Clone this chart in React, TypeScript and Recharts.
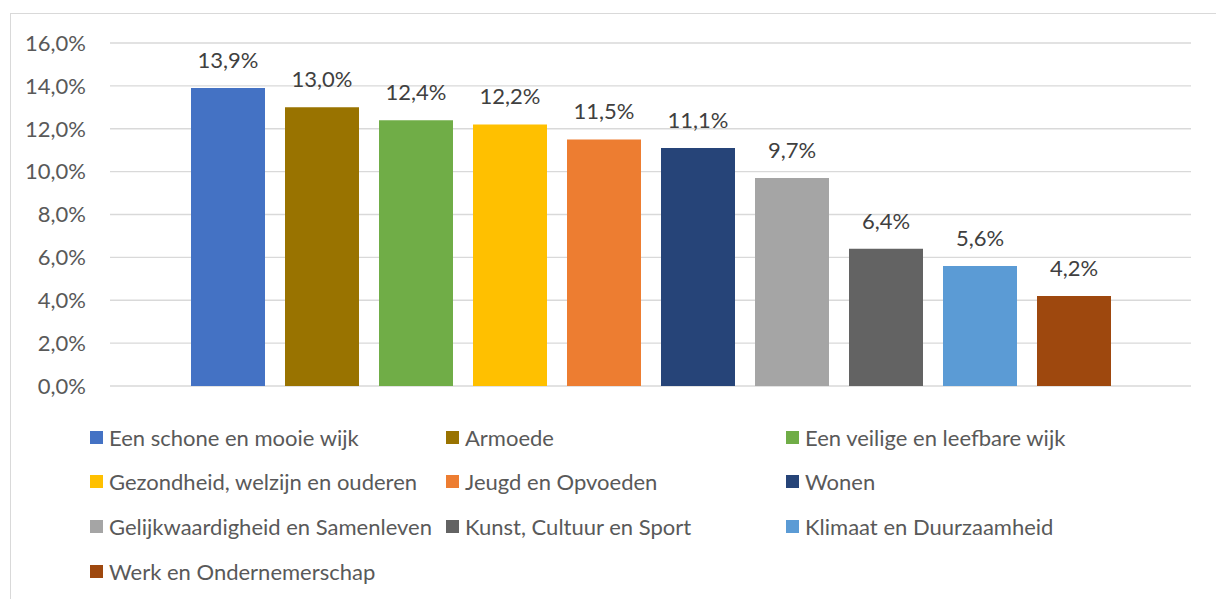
import React from "react";
import { BarChart, Bar, XAxis, YAxis, CartesianGrid, LabelList } from "recharts";

const seriesNames = [
  "Een schone en mooie wijk",
  "Armoede",
  "Een veilige en leefbare wijk",
  "Gezondheid, welzijn en ouderen",
  "Jeugd en Opvoeden",
  "Wonen",
  "Gelijkwaardigheid en Samenleven",
  "Kunst, Cultuur en Sport",
  "Klimaat en Duurzaamheid",
  "Werk en Ondernemerschap",
];

const seriesValues = [0.139, 0.13, 0.124, 0.122, 0.115, 0.111, 0.097, 0.064, 0.056, 0.042];

const seriesColors = [
  "#4472C4",
  "#997300",
  "#70AD47",
  "#FFC000",
  "#ED7D31",
  "#264478",
  "#A5A5A5",
  "#636363",
  "#5B9BD5",
  "#9E480E",
];

const yTicks = [0, 0.02, 0.04, 0.06, 0.08, 0.1, 0.12, 0.14, 0.16];

const FONT = "Lato, 'Open Sans', sans-serif";

const pct = (v: number) => (v * 100).toFixed(1).replace(".", ",") + "%";

const row: Record<string, number | string> = { name: "" };
seriesNames.forEach((_, i) => {
  row["s" + i] = seriesValues[i];
});
const data = [row];

const legendCols = [90, 446, 786];
const legendRows = [437, 481, 526, 571];

export default function App() {
  return (
    <div
      style={{
        position: "absolute",
        left: 0,
        top: 0,
        width: 1216,
        height: 599,
        overflow: "hidden",
        background: "#fff",
        fontFamily: FONT,
      }}
    >
      <div
        style={{
          position: "absolute",
          left: 10,
          top: 13,
          width: 1230,
          height: 620,
          border: "1px solid #d9d9d9",
        }}
      />
      <div style={{ position: "absolute", left: 0, top: 0 }}>
        <BarChart
          width={1216}
          height={400}
          data={data}
          margin={{ top: 43, right: 25, bottom: 14, left: 0 }}
          barGap={20}
          barSize={74}
        >
          <CartesianGrid vertical={false} stroke="#d9d9d9" strokeWidth={1.3} />
          <XAxis dataKey="name" hide />
          <YAxis
            width={110}
            domain={[0, 0.16]}
            ticks={yTicks}
            tickFormatter={pct}
            axisLine={false}
            tickLine={false}
            tickSize={0}
            tickMargin={24}
            tick={{ fill: "#595959", fontSize: 22, fontFamily: FONT }}
          />
          {seriesNames.map((n, i) => (
            <Bar key={n} dataKey={"s" + i} name={n} fill={seriesColors[i]} isAnimationActive={false}>
              <LabelList
                dataKey={"s" + i}
                position="top"
                offset={20}
                formatter={(v: any) => pct(Number(v))}
                style={{ fill: "#404040", fontSize: 22, fontFamily: FONT }}
              />
            </Bar>
          ))}
        </BarChart>
      </div>
      {seriesNames.map((n, i) => {
        const col = i % 3;
        const r = Math.floor(i / 3);
        return (
          <div
            key={n}
            style={{
              position: "absolute",
              left: legendCols[col],
              top: legendRows[r] - 14,
              height: 28,
              display: "flex",
              alignItems: "center",
              whiteSpace: "nowrap",
              color: "#595959",
              fontSize: 22,
            }}
          >
            <span
              style={{
                display: "inline-block",
                width: 13,
                height: 13,
                background: seriesColors[i],
                marginRight: 6,
              }}
            />
            {n}
          </div>
        );
      })}
    </div>
  );
}
